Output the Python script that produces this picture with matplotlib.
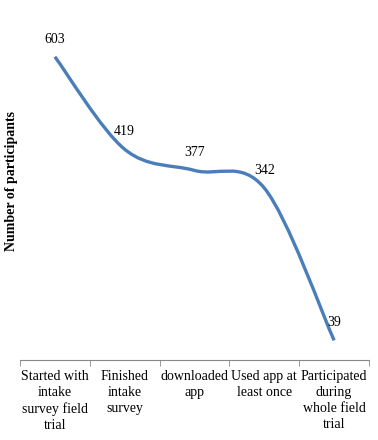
import numpy as np
import matplotlib.pyplot as plt
from matplotlib.path import Path
from matplotlib.patches import PathPatch

plt.rcParams['font.family'] = ['Liberation Serif', 'DejaVu Serif']

# data
stages = ['Started with\nintake\nsurvey field\ntrial',
          'Finished\nintake\nsurvey',
          'downloaded\napp',
          'Used app at\nleast once',
          'Participated\nduring\nwhole field\ntrial']
participants = [603, 419, 377, 342, 39]

fig = plt.figure(figsize=(3.78, 4.40), dpi=100)
ax = fig.add_axes([20 / 378, 1 - 360 / 440, 349 / 378, 352 / 440])

x = np.arange(len(participants), dtype=float)
y = np.array(participants, dtype=float)

# smoothed line (Excel-style bezier through the points)
verts = [(x[0], y[0])]
codes = [Path.MOVETO]
n = len(x)
for i in range(n - 1):
    p0 = np.array([x[max(i - 1, 0)], y[max(i - 1, 0)]])
    p1 = np.array([x[i], y[i]])
    p2 = np.array([x[i + 1], y[i + 1]])
    p3 = np.array([x[min(i + 2, n - 1)], y[min(i + 2, n - 1)]])
    c1 = p1 + (p2 - p0) / 6
    c2 = p2 - (p3 - p1) / 6
    verts += [tuple(c1), tuple(c2), tuple(p2)]
    codes += [Path.CURVE4] * 3
ax.add_patch(PathPatch(Path(verts, codes), facecolor='none',
                       edgecolor='#4a7ebb', lw=2.4, capstyle='butt'))

# data labels above points
for xi, yi in zip(x, y):
    ax.annotate(str(int(yi)), (xi, yi), xytext=(0, 8), textcoords='offset points',
                ha='center', va='bottom', fontsize=10)

ax.set_xlim(-0.5, n - 0.5)
ax.set_ylim(0, 700)

ax.set_xticks(x)
ax.set_xticklabels(stages, fontsize=10, linespacing=1.3, va='top')
ax.set_xticks(np.arange(n + 1) - 0.5, minor=True)
ax.tick_params(axis='x', which='major', length=0, pad=7)
ax.tick_params(axis='x', which='minor', length=4, color='#888888', direction='out')
ax.set_yticks([])

for s in ['top', 'right', 'left']:
    ax.spines[s].set_visible(False)
ax.spines['bottom'].set_color('#888888')

fig.text(12 / 378, 1 - 181 / 440, 'Number of participants', rotation=90,
         ha='center', va='center', fontsize=10, fontweight='bold')

fig.savefig('out.png', dpi=100)
